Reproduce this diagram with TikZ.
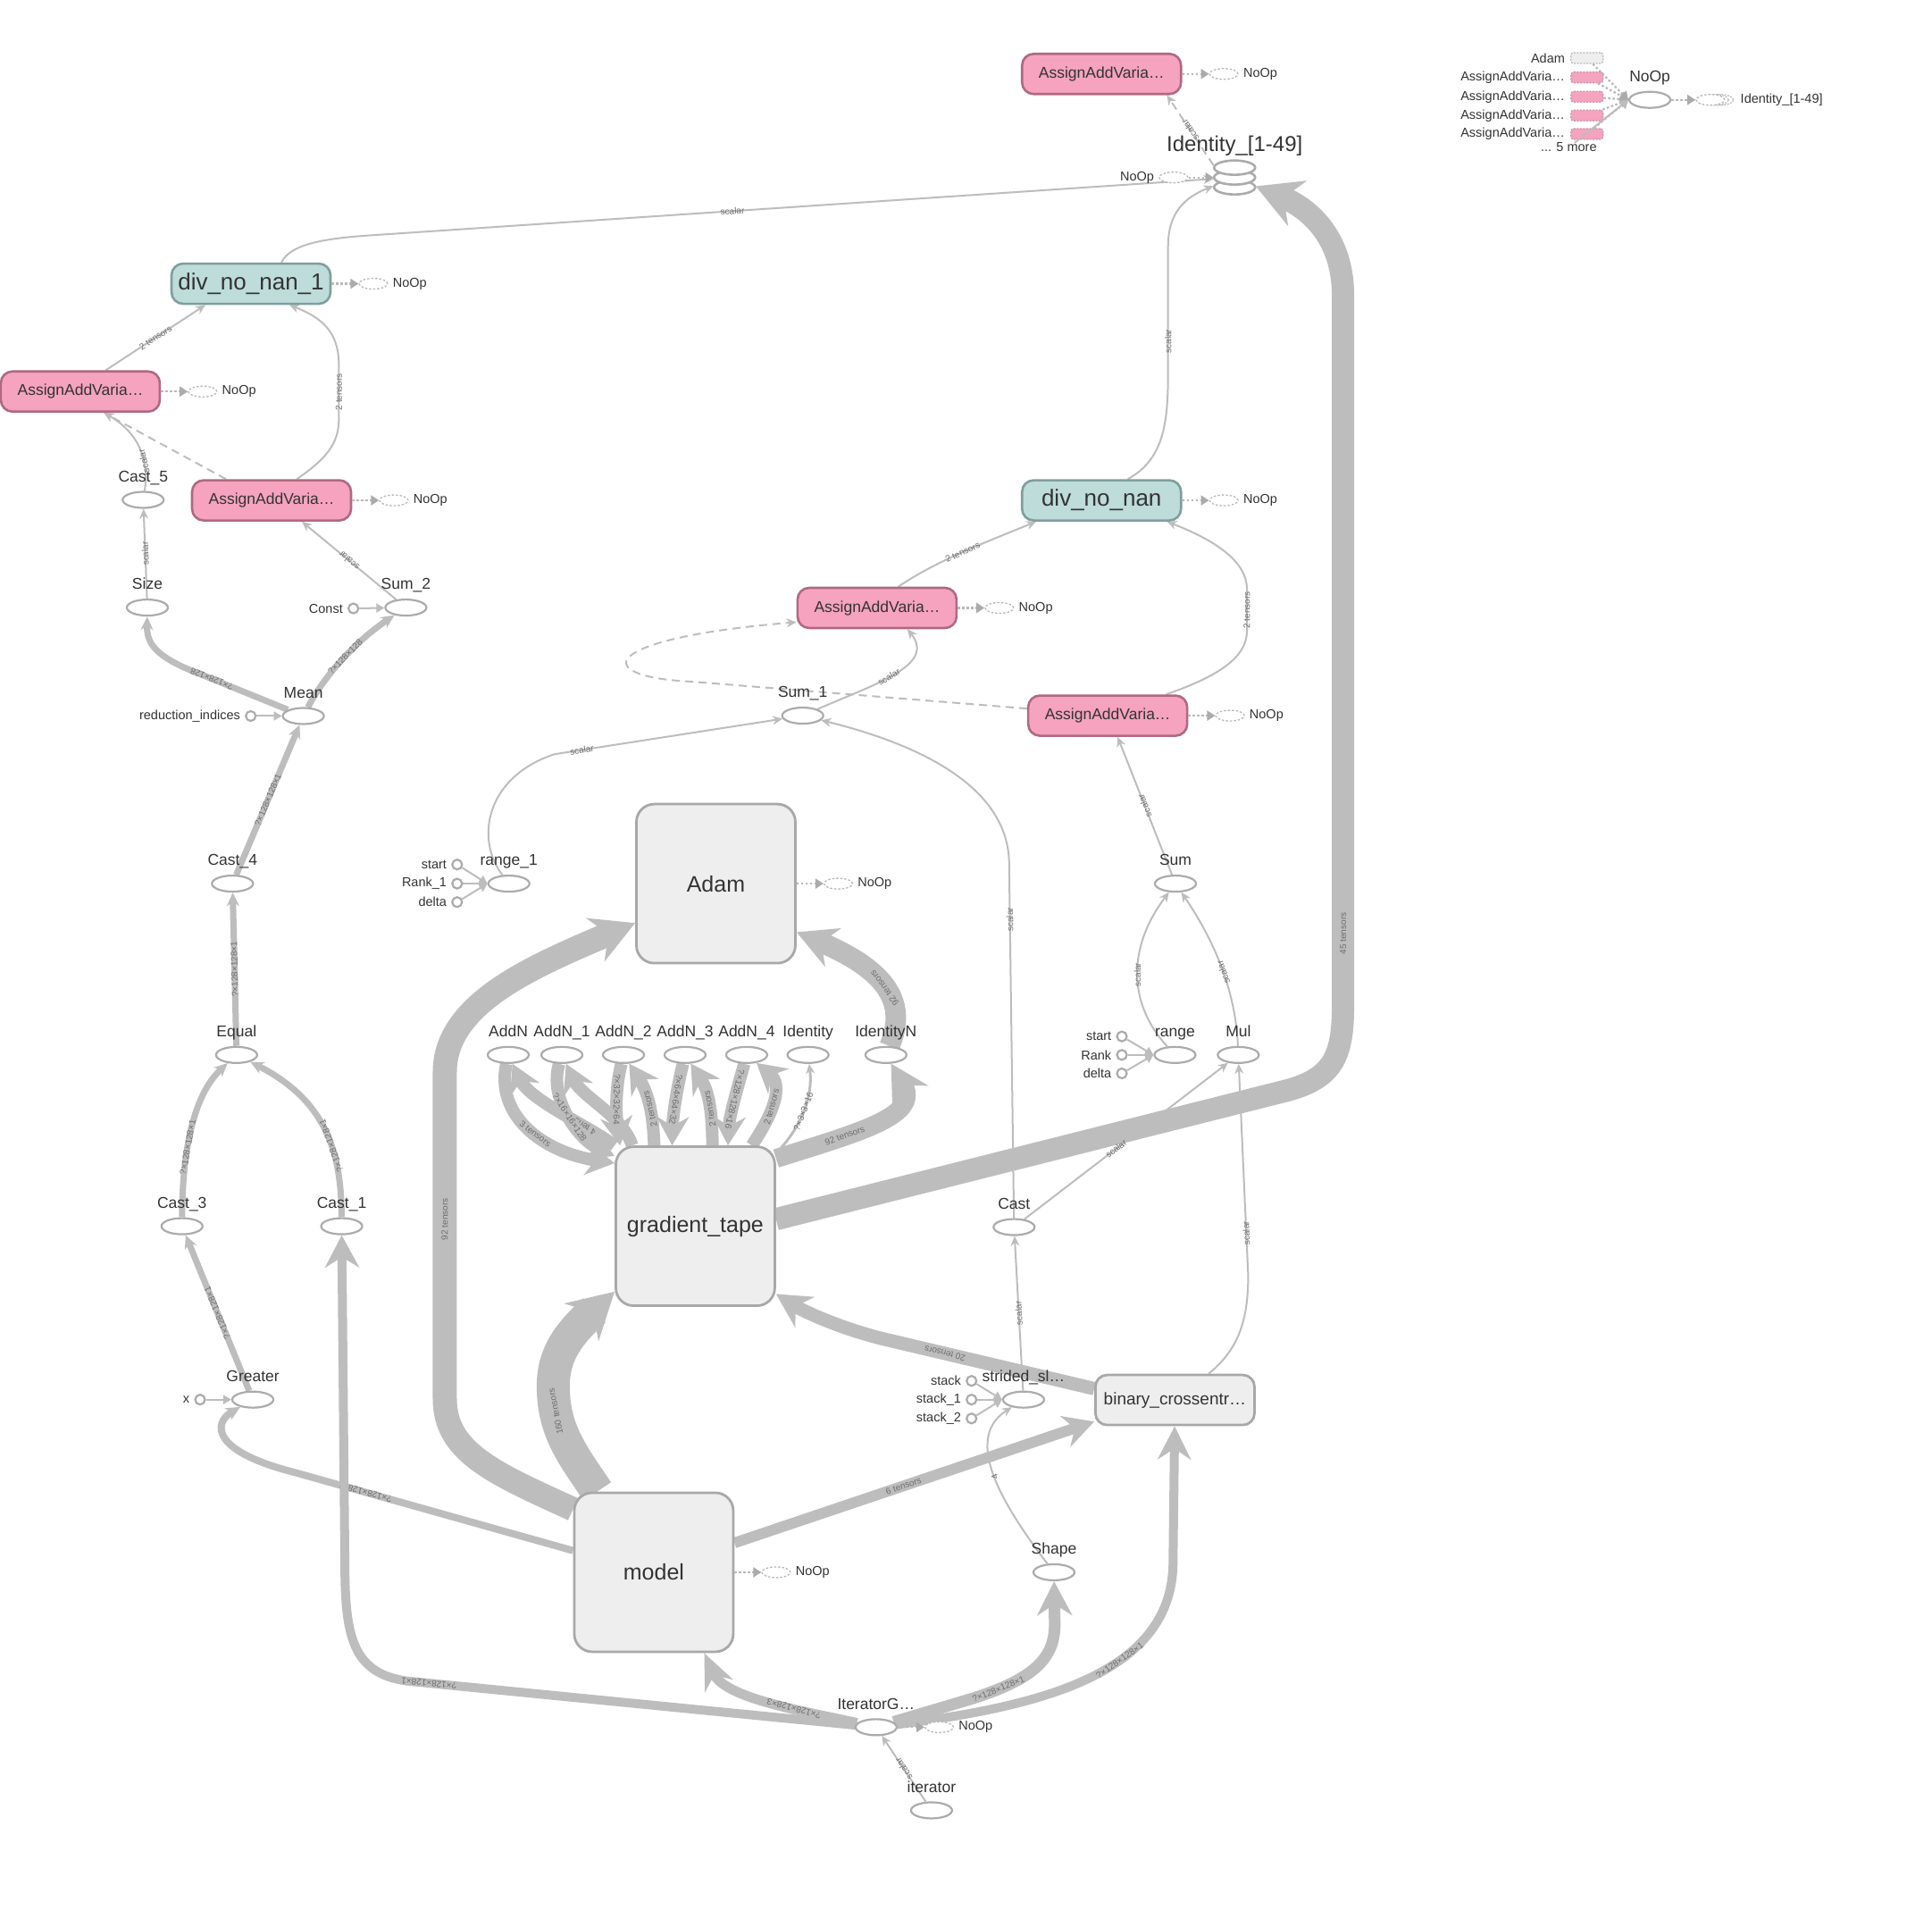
\documentclass[tikz,border=0pt]{standalone}
\usepackage{fontspec}
\setmainfont{Liberation Sans}
\definecolor{edgegray}{HTML}{BDBDBD}
\definecolor{opline}{HTML}{ABABAB}
\definecolor{ghostline}{HTML}{B8B8B8}
\definecolor{inkgray}{HTML}{333333}
\definecolor{labelgray}{HTML}{6E6E6E}
\definecolor{pinkfill}{HTML}{F5A3BF}
\definecolor{pinkline}{HTML}{AF6A7E}
\definecolor{tealfill}{HTML}{BDDCDA}
\definecolor{tealline}{HTML}{7E9F9D}
\definecolor{metafill}{HTML}{EEEEEE}
\definecolor{metaline}{HTML}{A8A8A8}
\usetikzlibrary{arrows.meta, positioning, shapes.geometric, backgrounds}

\begin{document}
\begin{tikzpicture}[
    x=1.3795pt, y=-1.3795pt,
    op/.style={ellipse, draw=opline, fill=white, line width=2.2pt, minimum width=46pt, minimum height=18pt, inner sep=0pt},
    cst/.style={circle, draw=opline, fill=white, line width=2.2pt, minimum size=11pt, inner sep=0pt},
    oplbl/.style={font=\fontsize{17.5}{20}\selectfont, text=inkgray, inner sep=0pt, text depth=0pt, yshift=10pt},
    smlbl/.style={font=\fontsize{14.5}{17}\selectfont, text=inkgray, inner sep=0pt},
    inlbl/.style={smlbl, xshift=-5pt},
    ghost/.style={ellipse, draw=ghostline, fill=white, dash pattern=on 2.5pt off 2pt, line width=1.3pt, minimum width=32pt, minimum height=12pt, inner sep=0pt},
    assign/.style={rectangle, rounded corners=13pt, draw=pinkline, fill=pinkfill, line width=2.6pt, minimum width=178pt, minimum height=45pt, inner sep=2pt, text=inkgray, font=\fontsize{17.5}{20}\selectfont},
    divbox/.style={assign, draw=tealline, fill=tealfill, font=\fontsize{26}{30}\selectfont},
    meta/.style={rectangle, rounded corners=20pt, draw=metaline, fill=metafill, line width=2.8pt, minimum width=178pt, minimum height=178pt, text=inkgray, font=\fontsize{25}{30}\selectfont},
    lossbox/.style={meta, minimum height=56pt, rounded corners=13pt, font=\fontsize{19}{22}\selectfont},
    lgrect/.style={rectangle, rounded corners=3pt, draw=ghostline, fill=metafill, dash pattern=on 2pt off 1.5pt, line width=1.3pt, minimum width=36pt, minimum height=12pt, inner sep=0pt},
    wire/.style={draw=edgegray, line width=2pt, -{Stealth[length=11pt, width=10pt]}},
    dashwire/.style={wire, dash pattern=on 9pt off 6pt},
    inarr/.style={draw=edgegray, line width=2pt, -{Triangle[length=9pt, width=10pt]}},
    ctl/.style={draw=ghostline, line width=2.2pt, dash pattern=on 2.5pt off 2.5pt, -{Triangle[length=9pt, width=11pt, color=opline]}},
    fat/.style n args={3}{draw=edgegray, line width=#1, line join=round, -{Stealth[length=#2, width=#3]}},
    elbl/.style={font=\fontsize{10}{11}\selectfont, text=labelgray, inner sep=1pt, sloped, allow upside down},
]
    \useasboundingbox (0,0) rectangle (1568,1563);

    % summary ops, top
    \node[assign] (aavtop) at (894,60) {AssignAddVaria…};
    \node[minimum width=47pt, minimum height=38pt, inner sep=0pt] (ident) at (1002,144) {};
    \foreach \dy in {-11,0,11}
        \draw[draw=opline, fill=white, line width=2.6pt] ([yshift=\dy pt]ident.center) ellipse [x radius=23pt, y radius=8pt];
    \node[font=\fontsize{24}{28}\selectfont, text=inkgray, inner sep=0pt, text depth=0pt, above=10pt of ident] {Identity\_[1-49]};
    \node[ghost, left=28pt of ident] (identno) {};
    \node[smlbl, left=5pt of identno] {NoOp};
    \draw[ctl] (identno) -- (ident);

    % metric branch, left
    \node[divbox] (dnnone) at (203.7,230.2) {div\_no\_nan\_1};
    \node[assign] (aavone) at (65.2,317.7) {AssignAddVaria…};
    \node[assign] (aavtwo) at (220.4,406) {AssignAddVaria…};
    \node[op, label={[oplbl]above:Cast\_5}] (castfive) at (116.2,405.6) {};
    \node[op, label={[oplbl]above:Size}] (size) at (119.6,493) {};
    \node[op, label={[oplbl]above:Sum\_2}] (sumtwo) at (329.4,493) {};
    \node[cst, label={[inlbl]left:Const}] (const) at (286.8,493.7) {};
    \node[op, label={[oplbl]above:Mean}] (mean) at (246.2,581) {};
    \node[cst, label={[inlbl]left:reduction\_indices}] (redidx) at (203.5,581) {};
    \node[op, label={[oplbl]above:Cast\_4}] (castfour) at (188.7,717) {};
    \node[op, label={[oplbl]above:Equal}] (equal) at (192,856) {};
    \node[op, label={[oplbl]above:Cast\_3}] (castthree) at (147.7,995) {};
    \node[op, label={[oplbl]above:Cast\_1}] (castone) at (277.3,995) {};
    \node[op, label={[oplbl]above:Greater}] (greater) at (205.2,1135.7) {};
    \node[cst, label={[inlbl]left:x}] (xin) at (162.4,1135.7) {};
    \node[op, label={[oplbl]above:range\_1}] (rangeone) at (413,717) {};
    \foreach \nm/\lb/\y in {roone/start/701.5, rotwo/Rank\_1/717, rothree/delta/732}
        \node[cst, label={[inlbl]left:\lb}] (\nm) at (371,\y) {};

    % training
    \node[meta] (adam) at (581,717) {Adam};
    \node[meta] (gt) at (564.3,995) {gradient\_tape};
    \node[meta] (model) at (530.6,1275.8) {model};
    \foreach \nm/\lb/\x in {addn/AddN/412.5, addnone/AddN\_1/456, addntwo/AddN\_2/506, addnthree/AddN\_3/556, addnfour/AddN\_4/606, identity/Identity/655.8, identityn/IdentityN/719}
        \node[op, label={[oplbl]above:\lb}] (\nm) at (\x,856) {};

    % metric branch, right
    \node[op, label={[oplbl]above:Sum\_1}] (sumone) at (651.5,580.7) {};
    \node[assign] (aavthree) at (711.8,493.3) {AssignAddVaria…};
    \node[divbox] (dnn) at (894,406) {div\_no\_nan};
    \node[assign] (aavfour) at (899,580.7) {AssignAddVaria…};
    \node[op, label={[oplbl]above:Sum}] (sum) at (954,717) {};
    \node[op, label={[oplbl]above:range}] (range) at (953.6,856) {};
    \foreach \nm/\lb/\y in {rone/start/841, rtwo/Rank/856, rthree/delta/871}
        \node[cst, label={[inlbl]left:\lb}] (\nm) at (910.5,\y) {};
    \node[op, label={[oplbl]above:Mul}] (mul) at (1005,856) {};
    \node[op, label={[oplbl]above:Cast}] (cast) at (823,995.7) {};
    \node[op, label={[oplbl]above:strided\_sl…}] (strided) at (830.7,1135.7) {};
    \foreach \nm/\lb/\y in {skone/stack/1120.5, sktwo/stack\_1/1135.7, skthree/stack\_2/1151}
        \node[cst, label={[inlbl]left:\lb}] (\nm) at (788.5,\y) {};
    \node[lossbox] (bce) at (953.6,1136) {binary\_crossentr…};
    \node[op, label={[oplbl]above:Shape}] (shape) at (855.4,1275.8) {};
    \node[op, label={[oplbl]above:IteratorG…}] (itg) at (711,1401.5) {};
    \node[op, label={[oplbl]above:iterator}] (iterator) at (756,1469) {};

    % control dependencies
    \foreach \nd in {aavtop, dnnone, aavone, aavtwo, aavthree, dnn, aavfour, adam, model, itg} {
        \node[ghost, right=30pt of \nd] (\nd-no) {};
        \node[smlbl, right=5pt of \nd-no] {NoOp};
        \draw[ctl] (\nd) -- (\nd-no);
    }

    % legend of the NoOp node
    \node[op, label={[oplbl]above:NoOp}] (lgnoop) at (1339,81) {};
    \node[lgrect] (lgadam) at (1288,47.1) {};
    \node[smlbl, left=6pt of lgadam] {Adam};
    \draw[ctl] (lgadam) -- (lgnoop.west);
    \foreach \k/\y in {1/62.8, 2/78.5, 3/93.7, 4/108.7} {
        \node[lgrect, draw=pinkline!70, fill=pinkfill] (lgaav\k) at (1288,\y) {};
        \node[smlbl, left=6pt of lgaav\k] {AssignAddVaria…};
        \draw[ctl] (lgaav\k) -- (lgnoop.west);
    }
    \node[smlbl, anchor=east] (lgmore) at (1296,119.6) {... 5 more};
    \draw[inarr] (lgmore) -- (lgnoop.west);
    \draw[draw=ghostline, dash pattern=on 2pt off 1.5pt, line width=1.2pt, fill=white] (1396,81) ellipse [x radius=15pt, y radius=6pt];
    \draw[draw=ghostline, dash pattern=on 2pt off 1.5pt, line width=1.2pt, fill=white] (1392,81) ellipse [x radius=15pt, y radius=6pt];
    \node[ghost, right=27pt of lgnoop] (lgident) {};
    \node[smlbl, right=17pt of lgident] {Identity\_[1-49]};
    \draw[ctl] (lgnoop) -- (lgident);

    \begin{scope}[on background layer]
        \fill[white] (0,0) rectangle (1568,1563);
        % top
        \draw[dashwire] (ident.150) -- node[elbl]{scalar} (aavtop.-18);
        \draw[wire] (dnnone.35) .. controls (235,200) and (255,194) .. (300,191) -- node[elbl, pos=0.43]{scalar} (ident);
        \draw[wire] (dnn.39) .. controls (946,372) and (948,340) .. (948,300) -- node[elbl, pos=0.23]{scalar} (948,200) .. controls (948,172) and (962,160) .. (ident);
        \draw[fat={25pt}{50pt}{54pt}] (gt.5) -- (1040,886) .. controls (1082,876) and (1090,858) .. (1090,815) -- node[elbl, pos=0.1]{45 tensors} (1090,240) .. controls (1090,195) and (1065,170) .. (ident);

        % left metric branch
        \draw[wire] (aavone.40) -- node[elbl]{2 tensors} (dnnone.-155);
        \draw[wire] (aavtwo.40) .. controls (265,372) and (275,360) .. (275,340) -- node[elbl]{2 tensors} (275,296) .. controls (275,270) and (262,258) .. (dnnone.-29);
        \draw[dashwire] (aavtwo.155) -- (aavone.-42);
        \draw[wire] (castfive) .. controls (121,375) and (114,352) .. node[elbl, pos=0.35]{scalar} (aavone.-42);
        \draw[wire] (size) -- node[elbl]{scalar} (castfive);
        \draw[wire] (sumtwo) -- node[elbl]{scalar} (aavtwo.-35);
        \draw[inarr] (const) -- (sumtwo);
        \draw[inarr] (redidx) -- (mean);
        \draw[fat={7pt}{15pt}{14pt}] (mean) -- node[elbl, pos=0.9]{?×128×128} (165,548) .. controls (125,533) and (119,522) .. (size);
        \draw[fat={7pt}{15pt}{14pt}] (mean) .. controls (265,545) and (292,518) .. node[elbl]{?×128×128} (sumtwo);
        \draw[fat={7pt}{15pt}{14pt}] (castfour) -- node[elbl]{?×128×128×1} (mean);
        \draw[fat={7pt}{15pt}{14pt}] (equal) -- node[elbl]{?×128×128×1} (castfour);
        \draw[fat={7pt}{15pt}{14pt}] (castthree) .. controls (148,940) and (155,890) .. node[elbl, pos=0.4]{?×128×128×1} (equal);
        \draw[fat={7pt}{15pt}{14pt}] (castone) .. controls (277,935) and (265,893) .. node[elbl, pos=0.4]{?×128×128×1} (equal);
        \draw[fat={7pt}{15pt}{14pt}] (greater) -- node[elbl]{?×128×128×1} (castthree);
        \draw[inarr] (xin) -- (greater);
        \draw[fat={8pt}{16pt}{15pt}] (model.165) -- node[elbl, pos=0.75]{?×128×128×1} (240,1195) .. controls (172,1178) and (172,1155) .. (greater);
        \foreach \nm in {roone, rotwo, rothree}
            \draw[inarr] (\nm) -- (rangeone.west);
        \draw[wire] (rangeone) .. controls (385,680) and (395,630) .. (450,612) -- node[elbl, pos=0.12]{scalar} (sumone);

        % input pipeline
        \draw[wire] (iterator) -- node[elbl]{scalar} (itg);
        \draw[fat={10pt}{36pt}{38pt}] (itg) -- node[elbl, pos=0.95]{?×128×128×1} (330,1364) .. controls (288,1358) and (281,1330) .. (280,1280) -- (castone);
        \draw[fat={11pt}{40pt}{34pt}] (itg) .. controls (650,1388) and (588,1378) .. node[elbl, pos=0.35]{?×128×128×3} (model.-58);
        \draw[fat={13pt}{38pt}{39pt}] (itg) -- (790,1378) .. controls (840,1362) and (856,1345) .. node[elbl, pos=0.15]{?×128×128×1} (856,1318) -- (shape);
        \draw[fat={10pt}{37pt}{37pt}] (itg) .. controls (840,1385) and (950,1360) .. node[elbl, pos=0.62]{?×128×128×1} (952,1270) -- (bce);

        % model, loss and gradients
        \draw[fat={12pt}{34pt}{36pt}] (model.20) -- node[elbl, pos=0.47]{6 tensors} (bce.195);
        \draw[fat={15pt}{38pt}{40pt}] (bce.172) -- node[elbl, pos=0.7]{20 tensors} (715,1086) .. controls (680,1077) and (652,1064) .. (gt.-40);
        \draw[fat={37pt}{50pt}{56pt}] (model.125) .. controls (466,1182) and (449,1162) .. node[elbl, pos=0.8]{160 tensors} (449,1125) .. controls (449,1098) and (462,1082) .. (gt.219);
        \draw[fat={27pt}{48pt}{52pt}] (model.142) .. controls (400,1195) and (361,1178) .. (361,1135) -- node[elbl, pos=0.55]{92 tensors} (361,870) .. controls (361,815) and (430,785) .. (adam.206);
        \draw[fat={23pt}{44pt}{46pt}] (identityn) .. controls (736,815) and (722,788) .. node[elbl]{92 tensors} (adam.-31);
        \draw[fat={21pt}{42pt}{46pt}] (gt.40) .. controls (700,918) and (748,905) .. node[elbl, pos=0.3]{92 tensors} (identityn);
        \draw[fat={14pt}{32pt}{36pt}] (addn) .. controls (402,905) and (440,935) .. node[elbl, pos=0.55]{3 tensors} (gt.142);
        \draw[fat={14pt}{32pt}{36pt}] (gt.135) .. controls (480,915) and (430,893) .. node[elbl, pos=0.35]{4 tensors} (addn);
        \draw[fat={14pt}{32pt}{36pt}] (addnone) .. controls (445,892) and (470,925) .. node[elbl, pos=0.5]{?×16×16×128} (gt.139);
        \draw[fat={14pt}{32pt}{36pt}] (gt.128) .. controls (505,905) and (472,890) .. (addnone);
        \draw[fat={14pt}{32pt}{36pt}] (addntwo) .. controls (499,885) and (500,905) .. node[elbl, pos=0.45]{?×32×32×64} (gt.133);
        \draw[fat={14pt}{32pt}{36pt}] (gt.117) .. controls (530,900) and (525,885) .. node[elbl, pos=0.4]{2 tensors} (addntwo);
        \draw[fat={14pt}{32pt}{36pt}] (addnthree) .. controls (549,885) and (546,905) .. node[elbl, pos=0.45]{?×64×64×32} (gt.106);
        \draw[fat={14pt}{32pt}{36pt}] (gt.78) .. controls (578,900) and (575,885) .. node[elbl, pos=0.4]{2 tensors} (addnthree);
        \draw[fat={14pt}{32pt}{36pt}] (addnfour) .. controls (598,885) and (592,905) .. node[elbl, pos=0.45]{?×128×128×16} (gt.68);
        \draw[fat={14pt}{32pt}{36pt}] (gt.55) .. controls (630,900) and (635,880) .. node[elbl, pos=0.4]{2 tensors} (addnfour);
        \draw[wire, line width=3pt] (gt.42) .. controls (650,915) and (660,890) .. node[elbl]{?×3×3×16} (identity);

        % right metric branch
        \draw[wire] (aavthree.45) .. controls (760,455) and (800,440) .. node[elbl]{2 tensors} (dnn.-162);
        \draw[wire] (aavfour.20) .. controls (985,550) and (1012,535) .. (1012,512) -- node[elbl]{2 tensors} (1012,478) .. controls (1012,455) and (985,438) .. (dnn.-18);
        \draw[wire] (sumone) .. controls (710,555) and (760,540) .. node[elbl, pos=0.45]{scalar} (aavthree.-35);
        \draw[dashwire] (aavfour.175) -- (560,553) .. controls (478,549) and (485,518) .. (aavthree.190);
        \draw[wire] (cast) -- node[elbl, pos=0.84]{scalar} (819,700) .. controls (818,640) and (750,605) .. (sumone);
        \draw[wire] (sum) -- node[elbl]{scalar} (aavfour.-65);
        \foreach \nm in {rone, rtwo, rthree}
            \draw[inarr] (\nm) -- (range.west);
        \draw[wire] (range) .. controls (916,815) and (914,770) .. node[elbl]{scalar} (sum);
        \draw[wire] (mul) .. controls (1003,810) and (990,770) .. node[elbl]{scalar} (sum);
        \draw[wire] (cast) -- node[elbl, pos=0.45]{scalar} (mul);
        \draw[wire] (bce.38) .. controls (1005,1095) and (1013,1072) .. (1013,1035) -- node[elbl, pos=0.2]{scalar} (mul);
        \draw[wire] (strided) -- node[elbl]{scalar} (cast);
        \foreach \nm in {skone, sktwo, skthree}
            \draw[inarr] (\nm) -- (strided.west);
        \draw[wire] (shape) .. controls (805,1210) and (785,1165) .. node[elbl, pos=0.45]{4} (strided);
    \end{scope}
\end{tikzpicture}
\end{document}
